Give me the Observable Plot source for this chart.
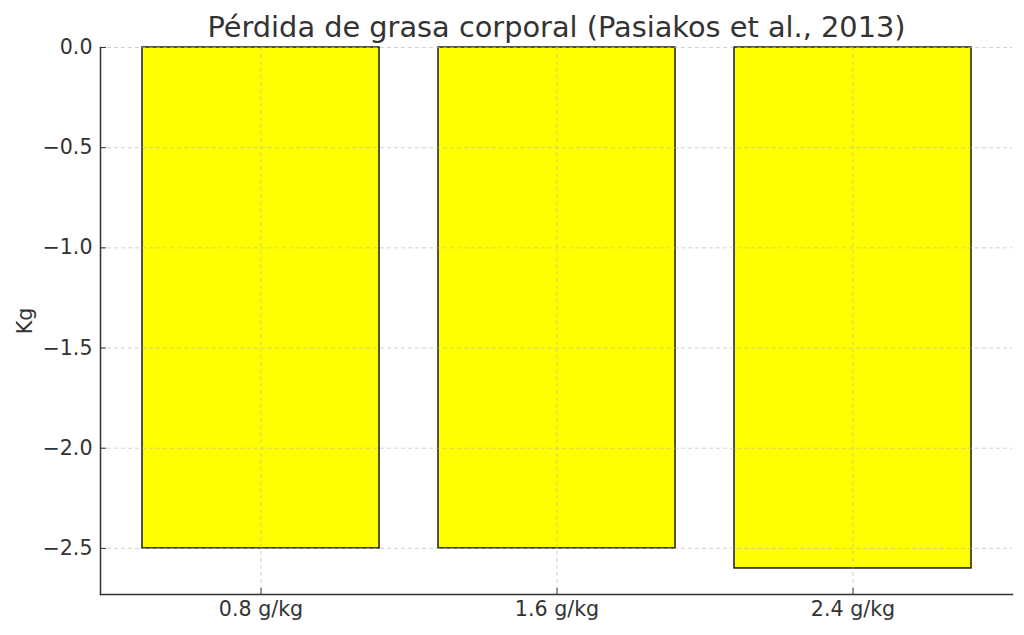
<!DOCTYPE html>
<html>
<head>
<meta charset="utf-8">
<script src="https://cdn.jsdelivr.net/npm/d3@7"></script>
<script src="https://cdn.jsdelivr.net/npm/@observablehq/plot@0.6"></script>
<style>
  html, body { margin: 0; padding: 0; background: #fff; }
  #chart { width: 1024px; height: 635px; }
</style>
</head>
<body>
<div id="chart"></div>
<script>
const title = "Pérdida de grasa corporal (Pasiakos et al., 2013)";
const yLabel = "Kg";
const doses = ["0.8 g/kg", "1.6 g/kg", "2.4 g/kg"];
const fatLoss = [-2.5, -2.5, -2.6];
const yTicks = [0, -0.5, -1.0, -1.5, -2.0, -2.5];
const yDomain = [-2.73, 0];

const data = doses.map((d, i) => ({dose: d, value: fatLoss[i]}));
const font = "DejaVu Sans, sans-serif";
const ink = "#333";

const chart = Plot.plot({
  width: 1024,
  height: 635,
  marginLeft: 100,
  marginRight: 12,
  marginTop: 47,
  marginBottom: 41,
  style: {fontFamily: font, background: "#fff", color: ink, overflow: "visible"},
  x: {type: "band", domain: doses, paddingInner: 0.2, paddingOuter: 0.14, label: null},
  y: {domain: yDomain, label: null},
  marks: [
    Plot.barY(data, {x: "dose", y: "value", fill: "#ffff00", stroke: "#1a1a1a", strokeWidth: 1.5}),
    Plot.gridX({stroke: "#b8b8b8", strokeOpacity: 0.7, strokeDasharray: "4,3", strokeWidth: 0.9}),
    Plot.gridY(yTicks, {stroke: "#b8b8b8", strokeOpacity: 0.7, strokeDasharray: "4,3", strokeWidth: 0.9}),
    Plot.axisY(yTicks, {tickSize: -6, tickPadding: 14, tickFormat: d3.format(".1f"), fontSize: 20.6, stroke: ink, fill: ink, label: null}),
    Plot.axisX({tickSize: -6, tickPadding: 13, fontSize: 20.6, stroke: ink, fill: ink, label: null}),
    Plot.frame({anchor: "left", stroke: ink, strokeWidth: 1.5}),
    Plot.frame({anchor: "bottom", stroke: ink, strokeWidth: 1.5}),
    Plot.text([title], {frameAnchor: "top", lineAnchor: "middle", dy: -20, fontSize: 28.8, fill: ink, fontFamily: font}),
    Plot.text([yLabel], {frameAnchor: "left", textAnchor: "middle", lineAnchor: "middle", dx: -75, rotate: -90, fontSize: 20.6, fill: ink, fontFamily: font})
  ]
});
document.getElementById("chart").appendChild(chart);
</script>
</body>
</html>
